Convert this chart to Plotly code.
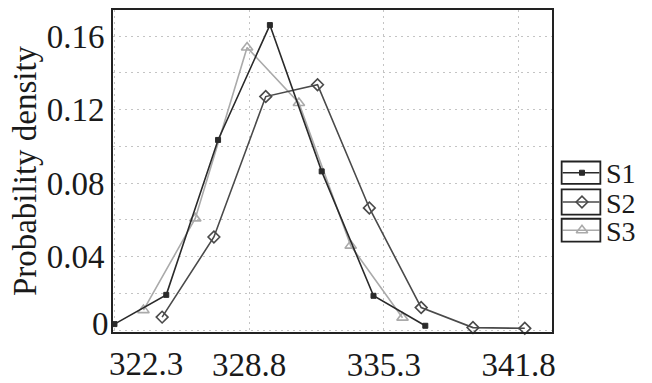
import plotly.graph_objects as go

# Probability density of three series (S1, S2, S3)
s1_x = [322.3, 324.8, 327.3, 329.8, 332.3, 334.8, 337.3]
s1_y = [0.0033, 0.0192, 0.1035, 0.1660, 0.0864, 0.0187, 0.0024]

s2_x = [324.6, 327.1, 329.6, 332.1, 334.6, 337.1, 339.6, 342.1]
s2_y = [0.0071, 0.0507, 0.1271, 0.1335, 0.0665, 0.0123, 0.0014, 0.0010]

s3_x = [323.7, 326.2, 328.7, 331.2, 333.7, 336.2]
s3_y = [0.0109, 0.0608, 0.1538, 0.1236, 0.0460, 0.0068]

series_names = ["S1", "S2", "S3"]
x_ticks = [322.3, 328.8, 335.3, 341.8]
y_ticks = [0, 0.02, 0.04, 0.06, 0.08, 0.10, 0.12, 0.14, 0.16]
y_labels = ["", "", "0.04", "", "0.08", "", "0.12", "", "0.16"]

FONT = "Liberation Serif"
TXT = "#1a1a1a"
FS = 33
LEG_FS = 28

styles = {
    "S1": dict(line=dict(color="#2a2a2a", width=1.6),
               marker=dict(symbol="square", size=5, color="#2a2a2a",
                           line=dict(color="#2a2a2a", width=1))),
    "S2": dict(line=dict(color="#4a4a4a", width=1.6),
               marker=dict(symbol="diamond-open", size=9, color="#4a4a4a",
                           line=dict(color="#4a4a4a", width=1.6))),
    "S3": dict(line=dict(color="#aaaaaa", width=1.6),
               marker=dict(symbol="triangle-up-open", size=10, color="#aaaaaa",
                           line=dict(color="#aaaaaa", width=1.6))),
}

W, H = 652, 383
ML, MT, MB = 113, 10, 36
PLOT_RIGHT = 555  # px
x_dom_end = (PLOT_RIGHT - ML) / (W - ML)

fig = go.Figure()

data = {"S1": (s1_x, s1_y), "S2": (s2_x, s2_y), "S3": (s3_x, s3_y)}
for name in ["S3", "S2", "S1"]:
    xs, ys = data[name]
    fig.add_trace(go.Scatter(x=xs, y=ys, mode="lines+markers", name=name,
                             showlegend=False, cliponaxis=False, **styles[name]))

# Boxed legend drawn on a pixel-space helper axis at the right
leg_cy = {"S1": 180.3, "S2": 211.0, "S3": 240.5}
box_h = {"S1": 23.5, "S2": 26.5, "S3": 24.0}
bx0, bx1 = 565, 604
for name in series_names:
    cy = leg_cy[name]
    hh = box_h[name] / 2
    fig.add_shape(type="rect", xref="x2", yref="y2", x0=bx0, x1=bx1,
                  y0=cy - hh, y1=cy + hh, line=dict(color="#222222", width=1.8))
    fig.add_trace(go.Scatter(x=[bx0 + 1, (bx0 + bx1) / 2, bx1 - 1], y=[cy, cy, cy],
                             mode="lines", xaxis="x2", yaxis="y2", showlegend=False,
                             line=styles[name]["line"], hoverinfo="skip"))
    fig.add_trace(go.Scatter(x=[(bx0 + bx1) / 2 + 1], y=[cy], mode="markers",
                             xaxis="x2", yaxis="y2", showlegend=False,
                             marker=styles[name]["marker"], hoverinfo="skip"))
    fig.add_annotation(x=609, y=cy + 1, xref="x2", yref="y2", text=name,
                       showarrow=False, xanchor="left", yanchor="middle",
                       borderpad=0, font=dict(family=FONT, size=LEG_FS, color=TXT))

# Tick labels that sit off their tick positions
fig.add_annotation(x=322.3, y=0, xref="x", yref="paper", text="322.3",
                   showarrow=False, xanchor="left", yanchor="top", xshift=-7, yshift=-12,
                   font=dict(family=FONT, size=FS, color=TXT))
fig.add_annotation(x=0, y=0, xref="paper", yref="y", text="0",
                   showarrow=False, xanchor="right", yanchor="middle", xshift=-2, yshift=6,
                   font=dict(family=FONT, size=FS, color=TXT))

grid = dict(showgrid=True, gridcolor="#c4c4c4", gridwidth=1, griddash="2px,4px")

fig.update_layout(
    width=W, height=H,
    margin=dict(l=ML, r=0, t=MT, b=MB, pad=0),
    paper_bgcolor="white", plot_bgcolor="white",
    font=dict(family=FONT, size=FS, color=TXT),
    xaxis=dict(domain=[0, x_dom_end], range=[322.23, 343.4],
               tickvals=x_ticks, ticktext=["", "328.8", "335.3", "341.8"],
               ticks="outside", ticklen=2, tickcolor="rgba(0,0,0,0)",
               showline=True, mirror=True, linecolor="#222222", linewidth=2,
               zeroline=False, tickfont=dict(family=FONT, size=FS, color=TXT), **grid),
    yaxis=dict(range=[-0.001, 0.1742], tickvals=y_ticks, ticktext=y_labels,
               ticks="", showline=True, mirror=True, linecolor="#222222", linewidth=2,
               zeroline=False, tickfont=dict(family=FONT, size=FS, color=TXT),
               title=dict(text="Probability density", standoff=0,
                          font=dict(family=FONT, size=FS, color=TXT)),
               **grid),
    xaxis2=dict(domain=[x_dom_end, 1], range=[PLOT_RIGHT, W], visible=False,
                fixedrange=True),
    yaxis2=dict(domain=[0, 1], range=[H - MB, MT], anchor="x2", visible=False,
                fixedrange=True),
)

fig.write_html("out.html")
